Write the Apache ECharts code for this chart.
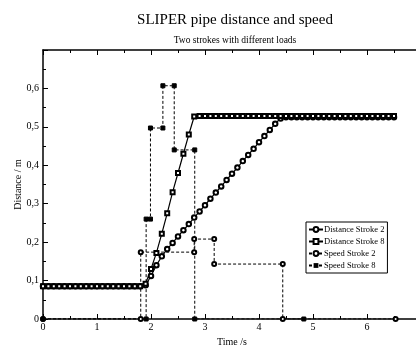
<!DOCTYPE html>
<html>
<head>
<meta charset="utf-8">
<script src="https://cdn.jsdelivr.net/npm/echarts@6/dist/echarts.min.js"></script>
<style>
  html, body { margin: 0; padding: 0; background: #fff; }
  #main { width: 416px; height: 345px; }
</style>
</head>
<body>
<div id="main"></div>
<script>
// sample times for the distance curves (s)
var distT = [0, 0.1, 0.2, 0.3, 0.4, 0.5, 0.6, 0.7, 0.8, 0.9, 1.0, 1.1, 1.2, 1.3, 1.4, 1.5, 1.6, 1.7, 1.8,
  1.9, 2.0, 2.1, 2.2, 2.3, 2.4, 2.5, 2.6, 2.7, 2.8, 2.9, 3.0, 3.1, 3.2, 3.3, 3.4, 3.5, 3.6, 3.7, 3.8, 3.9,
  4.0, 4.1, 4.2, 4.3, 4.4, 4.5, 4.6, 4.7, 4.8, 4.9, 5.0, 5.1, 5.2, 5.3, 5.4, 5.5, 5.6, 5.7, 5.8, 5.9,
  6.0, 6.1, 6.2, 6.3, 6.4, 6.5];
// distance (m)
var dist2 = [0.085, 0.085, 0.085, 0.085, 0.085, 0.085, 0.085, 0.085, 0.085, 0.085, 0.085, 0.085, 0.085, 0.085, 0.085, 0.085, 0.085, 0.085, 0.085,
  0.088, 0.112, 0.140, 0.163, 0.182, 0.198, 0.215, 0.231, 0.247, 0.264, 0.280, 0.296, 0.313, 0.329, 0.345, 0.362, 0.378, 0.394, 0.411, 0.427, 0.443,
  0.460, 0.476, 0.492, 0.508, 0.522, 0.525, 0.525, 0.525, 0.525, 0.525, 0.525, 0.525, 0.525, 0.525, 0.525, 0.525, 0.525, 0.525, 0.525, 0.525,
  0.525, 0.525, 0.525, 0.525, 0.525, 0.525];
var dist8 = [0.085, 0.085, 0.085, 0.085, 0.085, 0.085, 0.085, 0.085, 0.085, 0.085, 0.085, 0.085, 0.085, 0.085, 0.085, 0.085, 0.085, 0.085, 0.085,
  0.092, 0.130, 0.172, 0.222, 0.275, 0.330, 0.380, 0.430, 0.480, 0.527, 0.528, 0.528, 0.528, 0.528, 0.528, 0.528, 0.528, 0.528, 0.528, 0.528, 0.528,
  0.528, 0.528, 0.528, 0.528, 0.528, 0.528, 0.528, 0.528, 0.528, 0.528, 0.528, 0.528, 0.528, 0.528, 0.528, 0.528, 0.528, 0.528, 0.528, 0.528,
  0.528, 0.528, 0.528, 0.528, 0.528, 0.528];
// speed steps (m/s), corner points
var speed2T = [0, 1.81, 1.81, 2.80, 2.80, 3.17, 3.17, 4.44, 4.44, 6.53];
var speed2 = [0, 0, 0.174, 0.174, 0.208, 0.208, 0.143, 0.143, 0, 0];
var speed8T = [0, 1.91, 1.91, 1.99, 1.99, 2.22, 2.22, 2.43, 2.43, 2.81, 2.81, 4.83];
var speed8 = [0, 0, 0.26, 0.26, 0.497, 0.497, 0.607, 0.607, 0.44, 0.44, 0, 0];
var seriesNames = ['Distance Stroke 2', 'Distance Stroke 8', 'Speed Stroke 2', 'Speed Stroke 8'];

function zip(xs, ys) {
  return xs.map(function (x, i) { return [x, ys[i]]; });
}

var serif = '"Liberation Serif", "DejaVu Serif", serif';
var chart = echarts.init(document.getElementById('main'));

var tickStyle = { color: '#000', width: 1 };
var xBase = {
  type: 'value', min: 0, max: 7, interval: 1,
  axisLine: { onZero: false, lineStyle: { color: '#000', width: 1.5 } },
  axisTick: { inside: true, length: 5, lineStyle: tickStyle },
  minorTick: { show: true, splitNumber: 2, length: 3, lineStyle: tickStyle },
  splitLine: { show: false }
};
var yBase = {
  type: 'value', min: 0, max: 0.7, interval: 0.1,
  axisLine: { show: true, onZero: false, lineStyle: { color: '#000', width: 1.5 } },
  axisTick: { show: true, inside: true, length: 5, lineStyle: tickStyle },
  minorTick: { show: true, splitNumber: 2, length: 3, lineStyle: tickStyle },
  splitLine: { show: false }
};

chart.setOption({
  animation: false,
  backgroundColor: '#fff',
  title: {
    text: 'SLIPER pipe distance and speed',
    subtext: 'Two strokes with different loads',
    left: 230, top: 8, textAlign: 'center', itemGap: 7,
    textStyle: { fontFamily: serif, fontSize: 15, fontWeight: 'normal', color: '#000' },
    subtextStyle: { fontFamily: serif, fontSize: 9.5, color: '#000' }
  },
  legend: {
    data: seriesNames,
    orient: 'vertical', left: 306, top: 222,
    itemWidth: 14, itemHeight: 6, itemGap: 3,
    padding: [3, 3, 3, 2],
    borderColor: '#000', borderWidth: 1, backgroundColor: '#fff',
    textStyle: { fontFamily: serif, fontSize: 8.5, color: '#000', padding: [0, 0, 0, -4] }
  },
  grid: { left: 43, top: 50, right: -5, bottom: 26, outerBoundsMode: 'none', containLabel: false },
  xAxis: [
    Object.assign({}, xBase, {
      position: 'bottom',
      name: 'Time /s', nameLocation: 'middle', nameGap: 13,
      nameTextStyle: { fontFamily: serif, fontSize: 10, color: '#000' },
      axisLabel: {
        fontFamily: serif, fontSize: 10, color: '#000', margin: 3,
        formatter: function (v) { return v >= 7 ? '' : String(v); }
      }
    }),
    Object.assign({}, xBase, { position: 'top', axisLabel: { show: false } })
  ],
  yAxis: [
    Object.assign({}, yBase, {
      position: 'left',
      name: 'Distance / m', nameLocation: 'middle', nameGap: 20, nameMoveOverlap: false,
      nameTextStyle: { fontFamily: serif, fontSize: 10, color: '#000' },
      axisLabel: {
        fontFamily: serif, fontSize: 10, color: '#000', margin: 4,
        formatter: function (v) { return v >= 0.69 ? '' : String(+v.toFixed(1)).replace('.', ','); }
      }
    }),
    Object.assign({}, yBase, { position: 'right', axisLabel: { show: false } })
  ],
  series: [
    {
      name: seriesNames[0], type: 'line', data: zip(distT, dist2),
      symbol: 'emptyCircle', symbolSize: 4.5,
      lineStyle: { color: '#000', width: 1.2 },
      itemStyle: { color: '#000', borderColor: '#000', borderWidth: 0.8 }
    },
    {
      name: seriesNames[1], type: 'line', data: zip(distT, dist8),
      symbol: 'emptyRect', symbolSize: 4,
      lineStyle: { color: '#000', width: 1.2 },
      itemStyle: { color: '#000', borderColor: '#000', borderWidth: 0.8 }
    },
    {
      name: seriesNames[2], type: 'line', data: zip(speed2T, speed2),
      symbol: 'emptyCircle', symbolSize: 4,
      lineStyle: { color: '#000', width: 1, type: [3, 2] },
      itemStyle: { color: '#000', borderColor: '#000', borderWidth: 0.9 }
    },
    {
      name: seriesNames[3], type: 'line', data: zip(speed8T, speed8),
      symbol: 'rect', symbolSize: 4,
      lineStyle: { color: '#000', width: 1, type: [3, 2] },
      itemStyle: { color: '#000', borderColor: '#000' }
    }
  ]
});
</script>
</body>
</html>
